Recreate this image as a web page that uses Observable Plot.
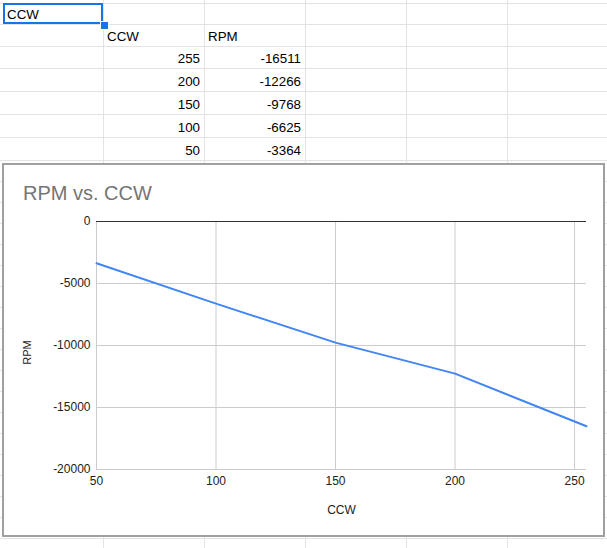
<!DOCTYPE html>
<html>
<head>
<meta charset="utf-8">
<script src="https://cdn.jsdelivr.net/npm/d3@7"></script>
<script src="https://cdn.jsdelivr.net/npm/@observablehq/plot@0.6"></script>
<style>
  html, body { margin: 0; padding: 0; background: #fff; }
  body { position: relative; width: 607px; height: 548px; overflow: hidden; font-family: Arial, "Liberation Sans", sans-serif; }
  .vl { position: absolute; top: 0; width: 1px; height: 548px; background: #e2e3e3; }
  .hl { position: absolute; left: 0; height: 1px; width: 607px; background: #e2e3e3; }
  .cell { position: absolute; height: 17px; line-height: 17px; font-size: 13.33px; color: #000; white-space: nowrap; }
  #sel { position: absolute; left: 3px; top: 3px; width: 100px; height: 21px; box-sizing: border-box; border: 2px solid #1a73e8; }
  #handle { position: absolute; left: 100px; top: 21px; width: 7px; height: 7px; background: #1a73e8; border: 1px solid #fff; box-sizing: content-box; }
  #chartbox { position: absolute; left: 2px; top: 163px; width: 603px; height: 374px; box-sizing: border-box; border: 2px solid #a0a0a0; background: #fff; }
  #title { position: absolute; left: 23px; top: 183px; font-size: 20px; line-height: 20px; color: #757575; white-space: nowrap; }
  #plot { position: absolute; left: 4px; top: 205px; }
</style>
</head>
<body>
<div id="sheet"></div>
<div id="chartbox"></div>
<div id="title">RPM vs. CCW</div>
<div id="plot"></div>
<script>
// ---- data ----
const titleText = "RPM vs. CCW";
const selectedCell = "CCW";
const headers = ["CCW", "RPM"];
const ccw = [255, 200, 150, 100, 50];
const rpm = [-16511, -12266, -9768, -6625, -3364];
const xTicks = [50, 100, 150, 200, 250];
const yTicks = [0, -5000, -10000, -15000, -20000];
const xLabel = "CCW";
const yLabel = "RPM";

// ---- spreadsheet background ----
const sheet = document.getElementById("sheet");
const colLines = [103, 204, 305, 406, 507];
const rowLines = [3, 24, 46, 68, 91, 114, 137, 160];
for (let y = 181; y < 548; y += 21) rowLines.push(y);
colLines.forEach(x => { const d = document.createElement("div"); d.className = "vl"; d.style.left = x + "px"; sheet.appendChild(d); });
rowLines.forEach(y => { const d = document.createElement("div"); d.className = "hl"; d.style.top = y + "px"; sheet.appendChild(d); });

function cell(text, rowIdx, colLeft, colRight, align) {
  const d = document.createElement("div");
  d.className = "cell";
  const bottom = rowLines[rowIdx + 1];
  d.style.top = (bottom - 18.5) + "px";
  if (align === "left") { d.style.left = (colLeft + 4) + "px"; }
  else { d.style.left = colLeft + "px"; d.style.width = (colRight - colLeft - 4) + "px"; d.style.textAlign = "right"; }
  d.textContent = text;
  sheet.appendChild(d);
}
cell(selectedCell, 0, 3, 103, "left");
cell(headers[0], 1, 103, 204, "left");
cell(headers[1], 1, 204, 305, "left");
ccw.forEach((v, i) => {
  cell(String(v), 2 + i, 103, 204, "right");
  cell(String(rpm[i]), 2 + i, 204, 305, "right");
});
const sel = document.createElement("div"); sel.id = "sel"; sheet.appendChild(sel);
const handle = document.createElement("div"); handle.id = "handle"; sheet.appendChild(handle);
document.getElementById("title").textContent = titleText;

// ---- chart ----
const data = ccw.map((c, i) => ({ccw: c, rpm: rpm[i]})).sort((a, b) => a.ccw - b.ccw);

const chart = Plot.plot({
  width: 599,
  height: 330,
  marginLeft: 92,
  marginRight: 17,
  marginTop: 16,
  marginBottom: 66,
  style: { fontFamily: "Arial, 'Liberation Sans', sans-serif", fontSize: "12px", color: "#222", background: "transparent" },
  x: { domain: [50, 255], ticks: xTicks, tickSize: 0, tickPadding: 7, tickFormat: d => String(d), label: null },
  y: { domain: [-20000, 0], ticks: yTicks, tickSize: 0, tickPadding: 6, tickFormat: d => String(d), label: null },
  marks: [
    Plot.gridX(xTicks, { stroke: "#cccccc", strokeOpacity: 1 }),
    Plot.gridY(yTicks, { stroke: "#cccccc", strokeOpacity: 1 }),
    Plot.ruleY([0], { stroke: "#333333", strokeWidth: 1 }),
    Plot.axisX(xTicks, { tickSize: 0, tickPadding: 7, label: null, fill: "#222", tickFormat: d => String(d) }),
    Plot.axisY(yTicks, { tickSize: 0, tickPadding: 6, label: null, fill: "#222", tickFormat: d => String(d) }),
    Plot.line(data, { x: "ccw", y: "rpm", stroke: "#4285f4", strokeWidth: 2 }),
    Plot.text([xLabel], { frameAnchor: "bottom", dy: 41, lineAnchor: "middle", textAnchor: "middle", fill: "#222", fontSize: 12 }),
    Plot.text([yLabel], { frameAnchor: "left", dx: -69, dy: 7, rotate: -90, lineAnchor: "middle", textAnchor: "middle", fill: "#222", fontSize: 11 })
  ]
});
document.getElementById("plot").appendChild(chart);
</script>
</body>
</html>
